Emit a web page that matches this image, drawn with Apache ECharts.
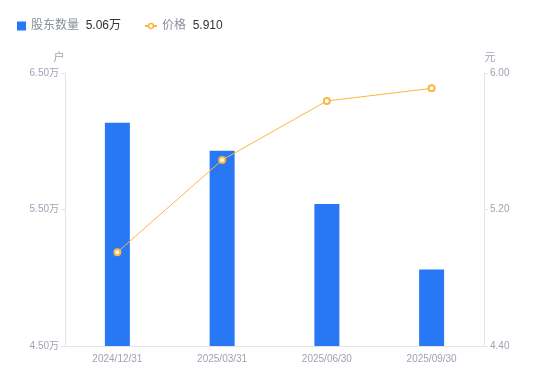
<!DOCTYPE html>
<html><head><meta charset="utf-8">
<script src="https://cdn.jsdelivr.net/npm/echarts@6/dist/echarts.min.js"></script>
<style>html,body{margin:0;padding:0;background:#fff}#c{width:550px;height:381px}</style>
</head><body><div id="c"></div>
<script>
var categories = ['2024/12/31', '2025/03/31', '2025/06/30', '2025/09/30'];
var holders = [61350, 59300, 55400, 50600];
var prices = [4.95, 5.49, 5.836, 5.91];
var leftTicks = [45000, 65000, 10000];
var rightTicks = [4.4, 6.0, 0.8];
var legendValues = {'股东数量': '5.06万', '价格': '5.910'};

var FONT = '"Liberation Sans", "Noto Sans CJK SC", sans-serif';
var chart = echarts.init(document.getElementById('c'));
var axisLabelStyle = {color: '#9ea3b3', fontSize: 10, fontFamily: FONT};
var legendText = {
  rich: {
    n: {color: '#8a8f9c', fontSize: 12, fontFamily: FONT},
    v: {color: '#333333', fontSize: 12, fontFamily: FONT}
  }
};
function legendFmt(n) { return '{n|' + n + '}  {v|' + legendValues[n] + '}'; }
chart.setOption({
  animation: false,
  textStyle: {fontFamily: FONT},
  legend: [{
    top: 15, left: 12, itemWidth: 9, itemHeight: 9,
    data: [{name: '股东数量', icon: 'rect'}],
    formatter: legendFmt, textStyle: legendText
  }, {
    top: 15, left: 139, itemWidth: 12, itemHeight: 6, itemGap: 5,
    data: [{name: '价格', itemStyle: {borderWidth: 1.5}}],
    formatter: legendFmt, textStyle: legendText
  }],
  grid: {left: 65, right: 66, top: 73, bottom: 35},
  xAxis: {
    type: 'category', data: categories,
    axisLine: {lineStyle: {color: '#e3e4ea'}},
    axisTick: {show: false},
    axisLabel: Object.assign({margin: 8}, axisLabelStyle)
  },
  yAxis: [{
    type: 'value', name: '户', min: leftTicks[0], max: leftTicks[1], interval: leftTicks[2],
    nameTextStyle: {color: '#9ea3b3', fontSize: 11, padding: [0, 0, 0, -12], fontFamily: FONT},
    nameGap: 10,
    axisLine: {show: true, lineStyle: {color: '#e3e4ea'}},
    axisTick: {show: true, length: 4, lineStyle: {color: '#e3e4ea'}},
    splitLine: {show: false},
    axisLabel: Object.assign({margin: 6, formatter: function (v) { return (v / 10000).toFixed(2) + '万'; }}, axisLabelStyle)
  }, {
    type: 'value', name: '元', min: rightTicks[0], max: rightTicks[1], interval: rightTicks[2],
    nameTextStyle: {color: '#9ea3b3', fontSize: 11, padding: [0, 0, 0, 12], fontFamily: FONT},
    nameGap: 10,
    axisLine: {show: true, lineStyle: {color: '#e3e4ea'}},
    axisTick: {show: true, length: 4, lineStyle: {color: '#e3e4ea'}},
    splitLine: {show: false},
    axisLabel: Object.assign({margin: 6, formatter: function (v) { return v.toFixed(2); }}, axisLabelStyle)
  }],
  series: [{
    name: '股东数量', type: 'bar', data: holders, barWidth: 25, yAxisIndex: 0,
    itemStyle: {color: '#2878f5'}
  }, {
    name: '价格', type: 'line', data: prices, yAxisIndex: 1,
    symbol: 'circle', symbolSize: 6,
    lineStyle: {color: '#fbb73f', width: 1},
    itemStyle: {color: '#fff', borderColor: '#fbb73f', borderWidth: 2}
  }]
});
</script></body></html>
